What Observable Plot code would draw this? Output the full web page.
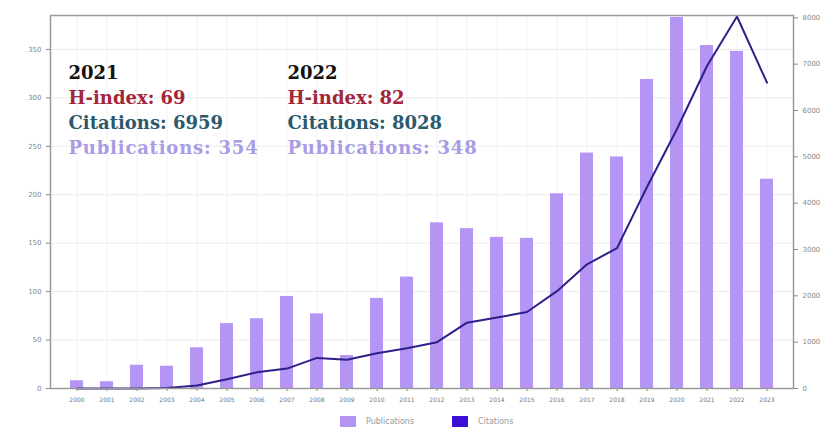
<!DOCTYPE html>
<html>
<head>
<meta charset="utf-8">
<script src="https://cdn.jsdelivr.net/npm/d3@7"></script>
<script src="https://cdn.jsdelivr.net/npm/@observablehq/plot@0.6"></script>
<style>
  html, body { margin: 0; padding: 0; background: #fff; }
  #chart { width: 835px; position: relative; }
  .legend { position: relative; height: 23px; font: 8px "DejaVu Sans", sans-serif; color: #999; }
  .legend .item { position: absolute; top: 6px; display: flex; align-items: center; }
  .legend span.sw { display: inline-block; width: 16px; height: 11px; margin-right: 10px; }
</style>
</head>
<body>
<div id="chart"></div>
<script>
const years = ["2000","2001","2002","2003","2004","2005","2006","2007","2008","2009","2010","2011","2012","2013","2014","2015","2016","2017","2018","2019","2020","2021","2022","2023"];
const publications = [8, 7, 24, 23, 42, 67, 72, 95, 77, 34, 93, 115, 171, 165, 156, 155, 201, 243, 239, 319, 383, 354, 348, 216];
const citations = [0, 0, 0, 10, 65, 200, 350, 430, 660, 620, 760, 870, 1000, 1420, 1530, 1650, 2100, 2680, 3030, 4350, 5600, 6959, 8028, 6600];
const leftTicks = [0, 50, 100, 150, 200, 250, 300, 350];
const rightTicks = [0, 1000, 2000, 3000, 4000, 5000, 6000, 7000, 8000];
const col2021 = ["2021", "H-index: 69", "Citations: 6959", "Publications: 354"];
const col2022 = ["2022", "H-index: 82", "Citations: 8028", "Publications: 348"];
const lineColors = ["#111111", "#a3263b", "#2c5a6c", "#a99ce4"];

const leftMax = 385;
const rightMax = 8050;
const k = leftMax / rightMax;

const pubData = years.map((y, i) => ({year: y, value: publications[i]}));
const citData = years.map((y, i) => ({year: y, value: citations[i] * k}));

const textMarks = [];
[col2021, col2022].forEach((col, c) => {
  col.forEach((t, i) => {
    textMarks.push(Plot.text([t], {
      frameAnchor: "top-left",
      dx: c === 0 ? 18 : 237,
      dy: 51 + i * 25,
      text: d => d,
      fill: lineColors[i],
      fontFamily: "DejaVu Serif, serif",
      fontWeight: "bold",
      fontSize: 18,
      textAnchor: "start",
      lineAnchor: "top"
    }));
  });
});

const chart = Plot.plot({
  width: 835,
  height: 410,
  marginLeft: 50,
  marginRight: 42,
  marginTop: 15,
  marginBottom: 22,
  x: {domain: years, padding: 0.55, label: null},
  y: {domain: [0, leftMax], label: null},
  style: {fontFamily: "DejaVu Sans, sans-serif", fontSize: "7px", color: "#888"},
  marks: [
    Plot.gridY(leftTicks, {stroke: "#ececec", strokeOpacity: 1}),
    Plot.gridX(years, {stroke: "#f2f2f2", strokeOpacity: 1}),
    Plot.barY(pubData, {x: "year", y: "value", fill: "#b595f3"}),
    Plot.line(citData, {x: "year", y: "value", stroke: "#2e1f8a", strokeWidth: 2}),
    Plot.axisY({ticks: leftTicks, anchor: "left", tickSize: 4, fontSize: 7, fill: "#888", label: null}),
    Plot.axisY(rightTicks.map(t => t * k), {anchor: "right", tickSize: 4, tickFormat: d => String(Math.round(d / k)), fontSize: 7, fill: "#888", label: null}),
    Plot.axisX({tickSize: 3, fontSize: 6, fill: "#777", label: null}),
    Plot.frame({stroke: "#9a9a9a", strokeWidth: 1.5}),
    ...textMarks
  ]
});
document.getElementById("chart").appendChild(chart);

d3.select(chart).selectAll("text")
  .filter(function() { return this.textContent.startsWith("Publications"); })
  .style("letter-spacing", "0.8px")
  .style("font-weight", "600");

const legend = document.createElement("div");
legend.className = "legend";
legend.innerHTML = `<div class="item" style="left:340px"><span class="sw" style="background:#b595f3"></span>Publications</div><div class="item" style="left:452px"><span class="sw" style="background:#3a10d8"></span>Citations</div>`;
document.getElementById("chart").appendChild(legend);
</script>
</body>
</html>
